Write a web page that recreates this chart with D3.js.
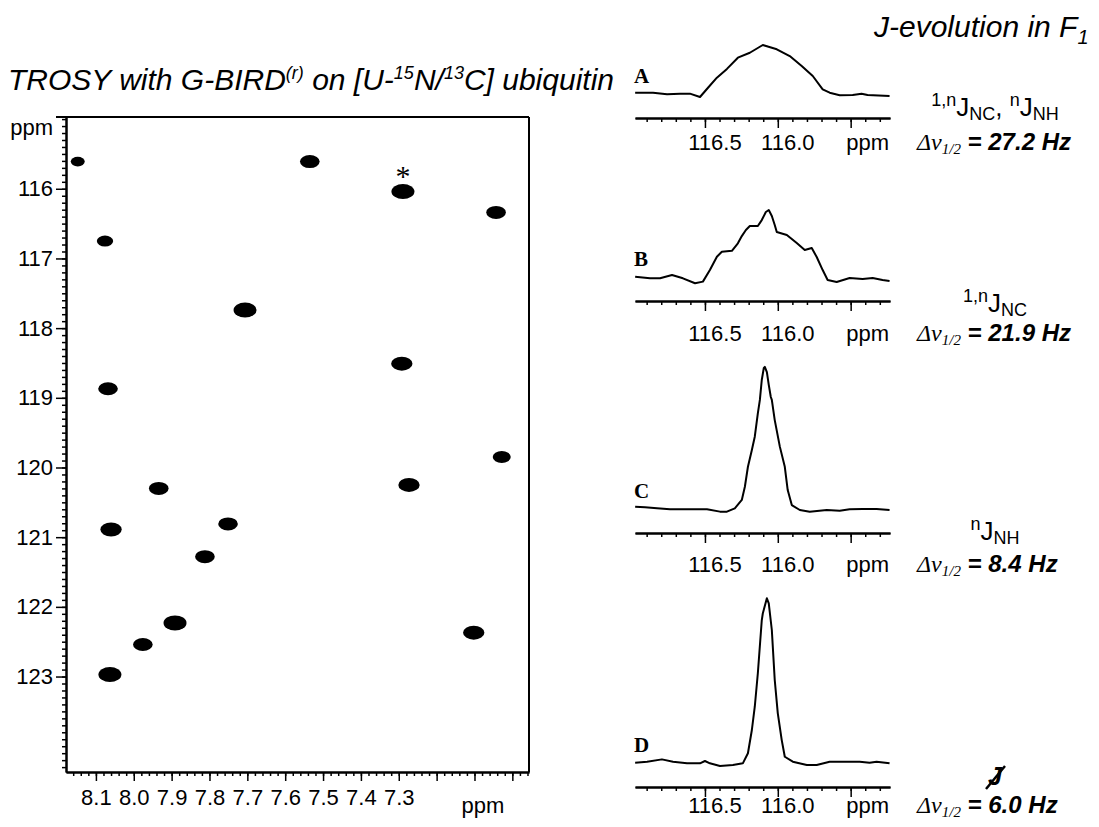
<!DOCTYPE html>
<html lang="en">
<head>
<meta charset="UTF-8">
<title>TROSY with G-BIRD</title>
<script src="https://d3js.org/d3.v7.min.js"></script>
<style>
body{margin:0;background:#fff;}
text{font-family:"Liberation Sans",Arial,sans-serif;fill:#000;}
.serif{font-family:"Liberation Serif","Times New Roman",serif;}
</style>
</head>
<body>
<script>
// ---- 2D spectrum: cross peaks (1H ppm, 15N ppm, relative intensity)
var peakH = [8.148, 8.076, 7.706, 7.535, 7.289, 7.043, 8.068, 7.292, 7.028, 7.273, 7.934, 8.060, 7.751, 7.812, 7.891, 7.976, 7.102, 8.063];
var peakN = [115.61, 116.75, 117.74, 115.61, 116.04, 116.34, 118.87, 118.51, 119.85, 120.25, 120.30, 120.89, 120.81, 121.28, 122.23, 122.54, 122.37, 122.97];
var peakInt = [1.3, 2, 4, 3, 4, 3, 3, 3.5, 2.5, 3.5, 3, 3.5, 3, 3, 4, 3, 3.5, 4];
var starred = 4;
var hTicks = [8.1, 8.0, 7.9, 7.8, 7.7, 7.6, 7.5, 7.4, 7.3];
var nTicks = [116, 117, 118, 119, 120, 121, 122, 123];

// ---- 1D traces through the starred peak (15N ppm, intensity)
var ppmA = [116.979,116.856,116.760,116.671,116.603,116.534,116.479,116.418,116.349,116.274,116.192,116.103,116.007,115.918,115.836,115.760,115.692,115.644,115.575,115.486,115.425,115.384,115.233];
var intA = [0.8,0.8,-0.2,0.2,0.2,-1.8,3.8,9.9,15.2,22.0,25.0,29.7,27.1,23.0,17.0,10.9,2.8,0.8,-0.8,-0.6,0.2,-0.6,-1.2];
var ppmB = [116.979,116.877,116.808,116.726,116.651,116.568,116.514,116.466,116.418,116.384,116.315,116.274,116.247,116.219,116.192,116.164,116.137,116.110,116.082,116.062,116.041,116.021,116.007,115.938,115.870,115.815,115.767,115.733,115.692,115.658,115.596,115.507,115.418,115.349,115.281,115.233];
var intB = [0.2,-0.8,-0.8,1.2,-0.8,-3.8,-2.8,4.2,12.3,15.3,15.9,20.4,24.8,28.5,30.9,30.9,30.9,34.5,39.4,40.6,37.0,31.5,27.3,25.5,20.6,16.4,17.6,12.1,4.2,-1.8,-3.0,-0.6,-1.2,-0.6,-1.8,-2.4];
var ppmC = [116.979,116.911,116.829,116.740,116.623,116.486,116.397,116.349,116.295,116.247,116.226,116.205,116.178,116.158,116.137,116.123,116.110,116.096,116.089,116.075,116.062,116.048,116.041,116.021,115.986,115.952,115.932,115.904,115.849,115.781,115.664,115.575,115.507,115.418,115.322,115.233];
var intC = [1.4,1.0,0.4,-0.2,-0.2,-0.2,-1.6,-1.6,0.4,5.5,13.5,25.6,35.8,43.8,58.0,66.1,78.2,85.5,86.1,83.0,75.2,67.9,66.1,53.9,37.8,25.6,11.5,2.4,-0.6,-1.6,-0.6,-1.0,-0.2,0.0,0.0,-0.6];
var ppmD = [116.979,116.897,116.795,116.719,116.623,116.534,116.500,116.466,116.397,116.308,116.240,116.205,116.178,116.158,116.137,116.110,116.103,116.075,116.062,116.041,116.021,116.000,115.973,115.952,115.897,115.801,115.733,115.644,115.555,115.438,115.370,115.322,115.233];
var intD = [0.2,0.8,2.2,0.8,-0.2,-0.2,1.2,-0.2,-1.8,-1.2,-0.2,5.9,20.0,34.1,54.4,86.5,90.6,99.8,96.8,80.6,50.3,30.1,13.9,3.8,0.8,-1.2,-1.2,0.8,0.8,0.8,0.2,0.8,-0.2];
var panelNames = ["A", "B", "C", "D"];
var halfWidths = ["27.2", "21.9", "8.4", "6.0"];
var traceTicks = [116.5, 116.0, 115.5];

var svg = d3.select("body").append("svg").attr("width", 1099).attr("height", 827);

// titles
var t1 = svg.append("text").attr("x", 8).attr("y", 90).style("font-size", "30px").style("font-style", "italic");
t1.append("tspan").text("TROSY with G-BIRD");
t1.append("tspan").attr("dy", -11).style("font-size", "18px").text("(r)");
t1.append("tspan").attr("dy", 11).text(" on [U-");
t1.append("tspan").attr("dy", -11).style("font-size", "18px").text("15");
t1.append("tspan").attr("dy", 11).text("N/");
t1.append("tspan").attr("dy", -11).style("font-size", "18px").text("13");
t1.append("tspan").attr("dy", 11).text("C] ubiquitin");

var t2 = svg.append("text").attr("x", 874).attr("y", 37).style("font-size", "30px").style("font-style", "italic");
t2.append("tspan").text("J-evolution in F");
t2.append("tspan").attr("dy", 7).style("font-size", "20px").text("1");

// ---- 2D plot
var x2 = d3.scaleLinear().domain([8.179, 6.956]).range([66, 529]);
var y2 = d3.scaleLinear().domain([114.97, 124.37]).range([117, 772]);

var g2 = svg.append("g");
// frame top and right
g2.append("line").attr("x1", 56).attr("x2", x2.range()[1]).attr("y1", 117).attr("y2", 117).attr("stroke", "#000").attr("stroke-width", 2);
g2.append("line").attr("x1", 529).attr("x2", 529).attr("y1", 117).attr("y2", 772).attr("stroke", "#000").attr("stroke-width", 2);

var yMinor = d3.range(115.0, 124.35, 0.1).map(function(d){ return +d.toFixed(1); });
g2.append("g").attr("transform", "translate(66,0)")
  .call(d3.axisLeft(y2).tickValues(yMinor).tickSize(4).tickSizeOuter(0).tickFormat(""));
g2.append("g").attr("transform", "translate(66,0)")
  .call(d3.axisLeft(y2).tickValues(nTicks).tickSize(10).tickSizeOuter(0).tickPadding(3).tickFormat(d3.format("d")));

var xMinor = d3.range(8.16, 6.95, -0.02).map(function(d){ return +d.toFixed(2); });
var xMajor = d3.range(8.1, 6.95, -0.1).map(function(d){ return +d.toFixed(1); });
g2.append("g").attr("transform", "translate(0,772)")
  .call(d3.axisBottom(x2).tickValues(xMinor).tickSize(4).tickSizeOuter(0).tickFormat(""));
g2.append("g").attr("transform", "translate(0,772)")
  .call(d3.axisBottom(x2).tickValues(xMajor).tickSize(9).tickSizeOuter(0).tickPadding(8)
    .tickFormat(function(d){ return hTicks.indexOf(d) >= 0 ? d3.format(".1f")(d) : ""; }));

g2.selectAll(".domain").attr("stroke-width", 2);
g2.selectAll(".tick line").attr("stroke-width", 1.5);
g2.selectAll(".tick text").style("font-size", "22px").style("font-family", "Liberation Sans, Arial, sans-serif");

g2.append("text").attr("x", 53).attr("y", 135).attr("text-anchor", "end").style("font-size", "22px").text("ppm");
g2.append("text").attr("x", 483).attr("y", 813).attr("text-anchor", "middle").style("font-size", "22px").text("ppm");

var rx = d3.scaleLinear().domain([1, 4]).range([6.5, 11.5]);
var ry = d3.scaleLinear().domain([1, 4]).range([4.5, 7.5]);
g2.selectAll("ellipse.pk").data(peakH).enter().append("ellipse").attr("class", "pk")
  .attr("cx", function(d){ return x2(d); })
  .attr("cy", function(d, i){ return y2(peakN[i]); })
  .attr("rx", function(d, i){ return rx(peakInt[i]); })
  .attr("ry", function(d, i){ return ry(peakInt[i]); })
  .attr("fill", "#000");
g2.append("text").attr("class", "serif").attr("x", x2(peakH[starred])).attr("y", y2(peakN[starred]) - 6)
  .attr("text-anchor", "middle").style("font-size", "30px").text("*");

// ---- 1D traces
var traces = [[ppmA, intA], [ppmB, intB], [ppmC, intC], [ppmD, intD]];
var axisY = [118, 301, 533, 787];
var labelY = [150, 341, 572, 813];
var jY = [116, 312, 540, 785];
var xs = d3.scaleLinear().domain([116.98, 115.23]).range([635, 890]);
var minor1d = d3.range(116.9, 115.25, -0.1).map(function(d){ return +d.toFixed(1); });

traces.forEach(function(tr, p){
  var g = svg.append("g");
  var ys = d3.scaleLinear().domain([0, 100]).range([axisY[p] - 24, axisY[p] - 24 - 165]);
  var line = d3.line().x(function(d){ return xs(d); }).y(function(d, i){ return ys(tr[1][i]); });
  g.append("path").datum(tr[0]).attr("d", line).attr("fill", "none").attr("stroke", "#000")
    .attr("stroke-width", 2).attr("stroke-linejoin", "round");

  var ax = g.append("g").attr("transform", "translate(0," + axisY[p] + ")");
  ax.append("g").call(d3.axisBottom(xs).tickValues(minor1d).tickSize(4).tickSizeOuter(0).tickFormat(""));
  ax.append("g").call(d3.axisBottom(xs).tickValues(traceTicks).tickSize(10).tickSizeOuter(0).tickFormat(""));
  ax.selectAll(".domain").attr("stroke-width", 2);
  ax.selectAll(".tick line").attr("stroke-width", 1.5);
  traceTicks.slice(0, 2).forEach(function(v){
    g.append("text").attr("x", xs(v) + 10).attr("y", labelY[p]).attr("text-anchor", "middle")
      .style("font-size", "22px").text(d3.format(".1f")(v));
  });
  g.append("text").attr("x", xs(115.5) + 17).attr("y", labelY[p]).attr("text-anchor", "middle")
    .style("font-size", "22px").text("ppm");

  g.append("text").attr("class", "serif").attr("x", 634).attr("y", axisY[p] - 35)
    .style("font-size", "21px").style("font-weight", "bold").text(panelNames[p]);

  // line width annotation
  var w = g.append("text").attr("x", 917).attr("y", labelY[p]).style("font-size", "24px");
  w.append("tspan").attr("class", "serif").style("font-style", "italic").text("\u0394\u03bd");
  w.append("tspan").attr("class", "serif").style("font-style", "italic").style("font-size", "15px").attr("dy", 4).text("1/2");
  w.append("tspan").attr("dy", -4).style("font-style", "italic").style("font-weight", "bold").text(" = " + halfWidths[p] + " Hz");
});

// coupling labels
function jLabel(y, parts){
  var t = svg.append("text").attr("x", 995).attr("y", y).attr("text-anchor", "middle").style("font-size", "26px");
  var cur = 0;
  parts.forEach(function(pt){
    var off = pt[1] === "sup" ? -10 : pt[1] === "sub" ? 4 : 0;
    t.append("tspan").attr("dy", off - cur).style("font-size", pt[1] === "main" ? "26px" : "18px").text(pt[0]);
    cur = off;
  });
}
jLabel(jY[0], [["1,n","sup"],["J","main"],["NC","sub"],[", ","main"],["n","sup"],["J","main"],["NH","sub"]]);
jLabel(jY[1], [["1,n","sup"],["J","main"],["NC","sub"]]);
jLabel(jY[2], [["n","sup"],["J","main"],["NH","sub"]]);
svg.append("text").attr("x", 995).attr("y", jY[3]).attr("text-anchor", "middle")
  .style("font-size", "25px").style("font-style", "italic").style("font-weight", "bold").text("J");
svg.append("line").attr("x1", 986).attr("y1", 789).attr("x2", 1005).attr("y2", 766).attr("stroke", "#000").attr("stroke-width", 2.5);
</script>
</body>
</html>
